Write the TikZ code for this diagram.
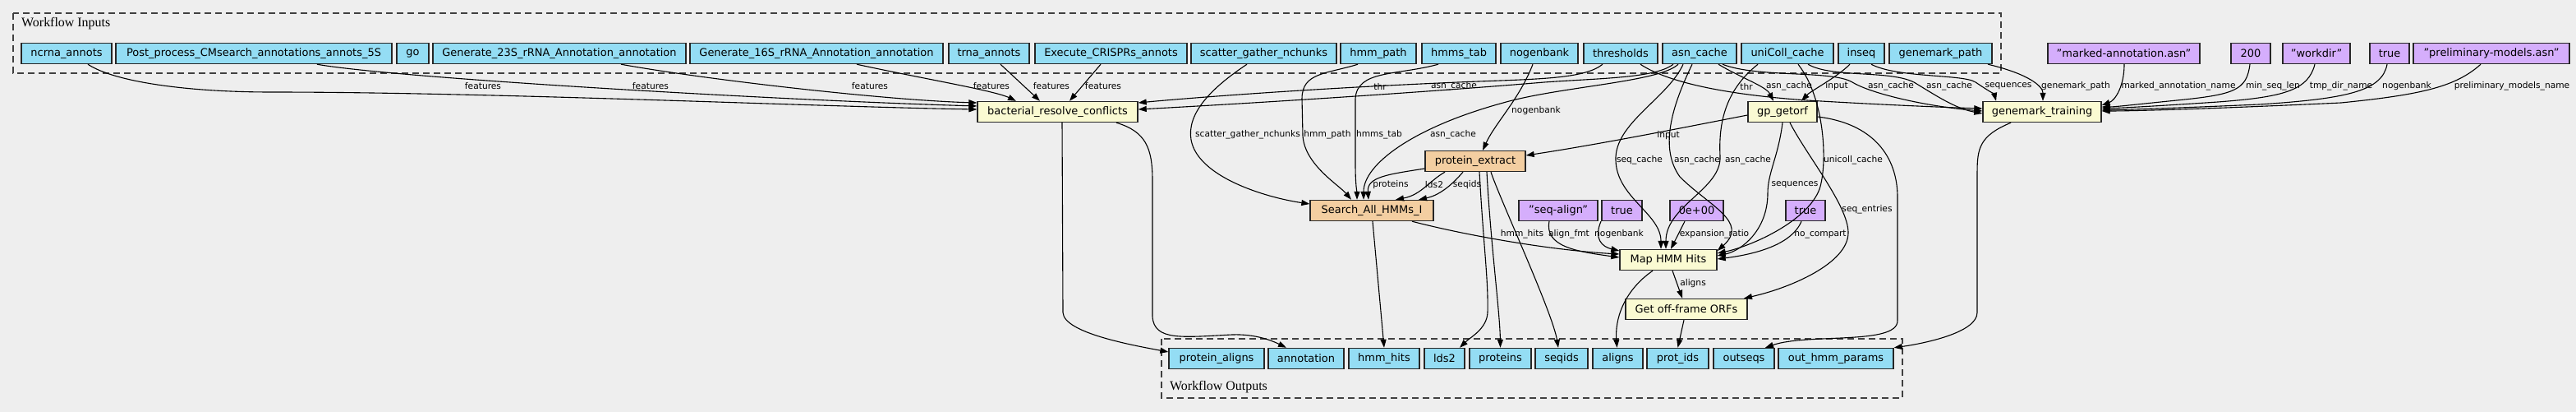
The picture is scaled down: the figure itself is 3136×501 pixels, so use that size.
\documentclass[tikz,border=0pt]{standalone}
\usepackage{fontspec}
\setmainfont{DejaVu Sans}
\newfontfamily\clusterfont{Liberation Serif}
\usepackage{tikz}
\usetikzlibrary{arrows.meta}
\definecolor{inblue}{HTML}{94DDF4}
\definecolor{stepyellow}{HTML}{FAFAD2}
\definecolor{suborange}{HTML}{F3CEA1}
\definecolor{constpurple}{HTML}{D5AEFC}
\definecolor{bggray}{HTML}{EEEEEE}

\begin{document}
\begin{tikzpicture}
  [
    x=1bp, y=-1bp,
    Blue/.style={rectangle, draw=black!85, fill=inblue, line width=1.4bp, minimum height=25bp, inner sep=0pt, font=\fontsize{13}{15}\selectfont},
    Yellow/.style={Blue, fill=stepyellow},
    Orange/.style={Blue, fill=suborange},
    Purple/.style={Blue, fill=constpurple},
    Label/.style={inner sep=0pt, font=\fontsize{10.7}{12}\selectfont},
    Edge/.style={draw, line width=1.1bp, -{Triangle[length=10bp,width=7bp]}},
    Cluster/.style={draw=black!75, line width=1.3bp, dash pattern=on 8bp off 5bp},
    ClusterLabel/.style={inner sep=0pt, anchor=west, font=\clusterfont\fontsize{16}{18}\selectfont}
  ]
  \fill[bggray] (0,0) rectangle (3136,501);
  \useasboundingbox (0,0) rectangle (3136,501);

  % Clusters
  \draw[Cluster] (16,16) rectangle (2436,89);
  \node[ClusterLabel] (inlabel) at (26,29) {Workflow Inputs};
  \draw[Cluster] (1414,412) rectangle (2316,484);
  \node[ClusterLabel] (outlabel) at (1424,471) {Workflow Outputs};

  % Nodes (x, y)
  % workflow inputs
  \node[Blue, minimum width=110bp] (ncrna) at(81, 65) {ncrna\_annots};
  \node[Blue, minimum width=336bp] (post) at(309, 65) {Post\_process\_CMsearch\_annotations\_annots\_5S};
  \node[Blue, minimum width=39bp] (go) at(502.5, 65) {go};
  \node[Blue, minimum width=308bp] (gen23) at(681, 65) {Generate\_23S\_rRNA\_Annotation\_annotation};
  \node[Blue, minimum width=308bp] (gen16) at(994, 65) {Generate\_16S\_rRNA\_Annotation\_annotation};
  \node[Blue, minimum width=98bp] (trna) at(1204, 65) {trna\_annots};
  \node[Blue, minimum width=185bp] (crispr) at(1352.5, 65) {Execute\_CRISPRs\_annots};
  \node[Blue, minimum width=177bp] (nchunks) at(1538.5, 65) {scatter\_gather\_nchunks};
  \node[Blue, minimum width=92bp] (hmmpath) at(1678, 65) {hmm\_path};
  \node[Blue, minimum width=90bp] (hmmstab) at(1776, 65) {hmms\_tab};
  \node[Blue, minimum width=94bp] (nogb) at(1874, 65) {nogenbank};
  \node[Blue, minimum width=90bp] (thresh) at(1973, 65) {thresholds};
  \node[Blue, minimum width=90bp] (asn) at(2069, 65) {asn\_cache};
  \node[Blue, minimum width=112bp] (unicoll) at(2176, 65) {uniColl\_cache};
  \node[Blue, minimum width=56bp] (inseq) at(2266, 65) {inseq};
  \node[Blue, minimum width=125bp] (gmpath) at(2362.5, 65) {genemark\_path};
  % default values
  \node[Purple, minimum width=185bp] (cmarked) at(2585.5, 65) {"marked-annotation.asn"};
  \node[Purple, minimum width=48bp] (cmin) at(2740, 65) {200};
  \node[Purple, minimum width=82bp] (cworkdir) at(2820, 65) {"workdir"};
  \node[Purple, minimum width=48bp] (ctrue) at(2909, 65) {true};
  \node[Purple, minimum width=190bp] (cprelim) at(3033, 65) {"preliminary-models.asn"};
  \node[Purple, minimum width=96bp] (calign) at(1897, 256) {"seq-align"};
  \node[Purple, minimum width=49bp] (ctrueb) at(1974.5, 256) {true};
  \node[Purple, minimum width=65bp] (cratio) at(2065.5, 256) {0e+00};
  \node[Purple, minimum width=48bp] (ctruec) at(2198, 256) {true};
  % steps
  \node[Yellow, minimum width=195bp] (brc) at(1287.5, 136) {bacterial\_resolve\_conflicts};
  \node[Yellow, minimum width=84bp] (getorf) at(2170, 136) {gp\_getorf};
  \node[Yellow, minimum width=144bp] (gmtrain) at(2486, 136) {genemark\_training};
  \node[Orange, minimum width=122bp] (pextract) at(1796, 196) {protein\_extract};
  \node[Orange, minimum width=150bp] (search) at(1670, 256) {Search\_All\_HMMs\_I};
  \node[Yellow, minimum width=118bp] (maphmm) at(2031, 316) {Map HMM Hits};
  \node[Yellow, minimum width=148bp] (offframe) at(2053, 376) {Get off-frame ORFs};
  % workflow outputs
  \node[Blue, minimum width=116bp] (oprotaligns) at(1481, 436) {protein\_aligns};
  \node[Blue, minimum width=92bp] (oannot) at(1590, 436) {annotation};
  \node[Blue, minimum width=86bp] (ohits) at(1685, 436) {hmm\_hits};
  \node[Blue, minimum width=49bp] (olds) at(1758.5, 436) {lds2};
  \node[Blue, minimum width=75bp] (oprot) at(1826.5, 436) {proteins};
  \node[Blue, minimum width=64bp] (oseqids) at(1901, 436) {seqids};
  \node[Blue, minimum width=61bp] (oaligns) at(1969.5, 436) {aligns};
  \node[Blue, minimum width=75bp] (oprotids) at(2042.5, 436) {prot\_ids};
  \node[Blue, minimum width=74bp] (ooutseqs) at(2123, 436) {outseqs};
  \node[Blue, minimum width=140bp] (ohmmparams) at(2235, 436) {out\_hmm\_params};

  % Lines
  % features -> bacterial_resolve_conflicts
  \path [Edge] ([xshift=26bp]ncrna.south) .. controls (140,100) and (230,112) .. (330,112) .. controls (600,112) and (1000,130) .. ([yshift=3bp]brc.west) node[Label] at (588,105) {features};
  \path [Edge] ([xshift=77bp]post.south) .. controls (480,95) and (950,122) .. ([yshift=7bp]brc.west) node[Label] at (792,105) {features};
  \path [Edge] ([xshift=75bp]gen23.south) .. controls (860,97) and (1080,122) .. ([yshift=11bp]brc.west) node[Label] at (1059,105) {features};
  \path [Edge] ([xshift=49bp]gen16.south) .. controls (1120,95) and (1210,110) .. ([xshift=-50.5bp]brc.north) node[Label] at (1207,105) {features};
  \path [Edge] ([xshift=14bp]trna.south) -- ([xshift=-21.5bp]brc.north) node[Label] at (1280,105) {features};
  \path [Edge] ([xshift=-12.5bp]crispr.south) -- ([xshift=14.5bp]brc.north) node[Label] at (1343,105) {features};
  % thr, asn_cache -> bacterial_resolve_conflicts
  \path [Edge] ([xshift=-22bp]thresh.south) .. controls (1930,95) and (1880,96) .. (1800,99) .. controls (1620,106) and (1460,118) .. ([yshift=11bp]brc.east) node[Label] at (1680,105) {thr};
  \path [Edge] ([xshift=-32bp]asn.south) .. controls (2015,95) and (1950,95) .. (1880,100) .. controls (1700,115) and (1480,128) .. ([yshift=3bp]brc.east) node[Label] at (1770,105) {asn\_cache};
  % inputs -> Search_All_HMMs_I
  \path [Edge] ([xshift=-20.5bp]nchunks.south) .. controls (1470,110) and (1445,140) .. (1450,170) .. controls (1458,215) and (1540,240) .. ([yshift=8bp]search.west) node[Label] at (1519,164) {scatter\_gather\_nchunks};
  \path [Edge] ([xshift=-25bp]hmmpath.south) .. controls (1615,90) and (1585,88) .. (1585,120) -- (1586,165) .. controls (1588,200) and (1630,225) .. ([xshift=-25bp]search.north) node[Label] at (1616,164) {hmm\_path};
  \path [Edge] ([xshift=-25bp]hmmstab.south) .. controls (1700,92) and (1652,85) .. (1650,120) -- (1650,200) .. controls (1650,225) and (1652,235) .. ([xshift=-18bp]search.north) node[Label] at (1679,164) {hmms\_tab};
  \path [Edge] ([xshift=-26bp]asn.south) .. controls (2020,100) and (1900,105) .. (1830,125) .. controls (1720,155) and (1660,200) .. ([xshift=-10bp]search.north) node[Label] at (1769,164) {asn\_cache};
  % -> protein_extract
  \path [Edge] ([xshift=-8bp]nogb.south) .. controls (1850,120) and (1820,150) .. ([xshift=9bp]pextract.north) node[Label] at (1870,135) {nogenbank};
  \path [Edge] ([yshift=-4bp]getorf.west) .. controls (2050,155) and (1950,175) .. ([yshift=7bp]pextract.east) node[Label] at (2031,165) {input};
  % protein_extract -> Search_All_HMMs_I
  \path [Edge] ([yshift=-9bp]pextract.west) .. controls (1690,212) and (1664,215) .. ([xshift=-4bp]search.north) node[Label] at (1693,225) {proteins};
  \path [Edge] ([xshift=-37bp]pextract.south) .. controls (1740,220) and (1730,237) .. ([xshift=29bp]search.north) node[Label] at (1746,225) {lds2};
  \path [Edge] ([xshift=-15bp]pextract.south) .. controls (1765,228) and (1750,238) .. ([xshift=57bp]search.north) node[Label] at (1786,225) {seqids};
  % -> Map HMM Hits
  \path [Edge] ([xshift=49bp]search.south) .. controls (1800,290) and (1900,305) .. ([yshift=7bp]maphmm.west) node[Label] at (1853,285) {hmm\_hits};
  \path [Edge] ([xshift=-11bp]calign.south) .. controls (1880,300) and (1920,306) .. ([yshift=3bp]maphmm.west) node[Label] at (1910,285) {align\_fmt};
  \path [Edge] ([xshift=-25.5bp]ctrueb.south) .. controls (1940,290) and (1950,300) .. ([yshift=11bp]maphmm.west) node[Label] at (1971,285) {nogenbank};
  \path [Edge] ([xshift=-20bp]asn.south) .. controls (2030,120) and (1965,150) .. (1967,195) .. controls (1968,240) and (2022,260) .. ([xshift=-9bp]maphmm.north) node[Label] at (1996,195) {seq\_cache};
  \path [Edge] ([xshift=-9bp]asn.south) .. controls (2035,130) and (2020,180) .. (2045,215) .. controls (2080,250) and (2130,270) .. ([yshift=11bp]maphmm.east) node[Label] at (2066,195) {asn\_cache};
  \path [Edge] ([xshift=-36bp]unicoll.south) .. controls (2100,110) and (2092,150) .. (2094,190) .. controls (2096,230) and (2028,250) .. ([xshift=-3bp]maphmm.north) node[Label] at (2128,195) {asn\_cache};
  \path [Edge] ([xshift=-14.5bp]cratio.south) -- ([xshift=3bp]maphmm.north) node[Label] at (2087,285) {expansion\_ratio};
  \path [Edge] ([xshift=13bp]unicoll.south) .. controls (2222,120) and (2225,200) .. (2215,230) .. controls (2200,270) and (2130,300) .. ([yshift=8bp]maphmm.east) node[Label] at (2256,195) {unicoll\_cache};
  \path [Edge] (getorf.south) .. controls (2165,190) and (2152,210) .. (2152,235) .. controls (2152,280) and (2120,305) .. ([yshift=5bp]maphmm.east) node[Label] at (2185,225) {sequences};
  \path [Edge] ([xshift=-5bp]ctruec.south) .. controls (2180,300) and (2130,310) .. ([yshift=1bp]maphmm.east) node[Label] at (2216,285) {no\_compart};
  % -> Get off-frame ORFs
  \path [Edge] ([xshift=9bp]getorf.south) .. controls (2200,190) and (2250,250) .. (2250,283) .. controls (2250,320) and (2180,350) .. ([xshift=70bp]offframe.north) node[Label] at (2273,255) {seq\_entries};
  \path [Edge] ([xshift=5bp]maphmm.south) -- ([xshift=-5bp]offframe.north) node[Label] at (2061,345) {aligns};
  % -> gp_getorf
  \path [Edge] ([xshift=23bp]asn.south) .. controls (2120,95) and (2150,105) .. ([xshift=-11bp]getorf.north) node[Label] at (2178,105) {asn\_cache};
  \path [Edge] ([xshift=-14bp]inseq.south) .. controls (2235,95) and (2205,110) .. ([xshift=23bp]getorf.north) node[Label] at (2236,105) {input};
  % -> genemark_training
  \path [Edge] ([xshift=24bp]thresh.south) .. controls (2030,100) and (2100,115) .. (2200,122) .. controls (2300,128) and (2380,131) .. ([yshift=4bp]gmtrain.west) node[Label] at (2126,105) {thr};
  \path [Edge] ([xshift=28bp]asn.south) .. controls (2140,95) and (2230,85) .. (2255,100) .. controls (2280,115) and (2350,130) .. ([yshift=1bp]gmtrain.west) node[Label] at (2302,105) {asn\_cache};
  \path [Edge] ([xshift=25bp]unicoll.south) .. controls (2230,95) and (2300,85) .. (2330,100) .. controls (2355,115) and (2380,132) .. ([yshift=-2bp]gmtrain.west) node[Label] at (2373,105) {asn\_cache};
  \path [Edge] ([xshift=12bp]inseq.south) .. controls (2310,95) and (2390,90) .. (2405,100) .. controls (2420,110) and (2428,115) .. ([xshift=-56bp]gmtrain.north) node[Label] at (2445,105) {sequences};
  \path [Edge] ([xshift=57.5bp]gmpath.south) .. controls (2470,90) and (2487,105) .. ([xshift=1bp]gmtrain.north) node[Label] at (2527,105) {genemark\_path};
  \path [Edge] ([xshift=0.5bp]cmarked.south) .. controls (2586,105) and (2575,122) .. ([yshift=8bp]gmtrain.east) node[Label] at (2652,105) {marked\_annotation\_name};
  \path [Edge] ([xshift=-1bp]cmin.south) .. controls (2735,110) and (2720,115) .. (2650,122) .. controls (2600,127) and (2575,130) .. ([yshift=6bp]gmtrain.east) node[Label] at (2767,105) {min\_seq\_len};
  \path [Edge] ([xshift=-2bp]cworkdir.south) .. controls (2810,110) and (2780,118) .. (2700,124) .. controls (2640,128) and (2590,131) .. ([yshift=4bp]gmtrain.east) node[Label] at (2850,105) {tmp\_dir\_name};
  \path [Edge] ([xshift=-3bp]ctrue.south) .. controls (2900,110) and (2860,120) .. (2750,127) .. controls (2660,131) and (2600,133) .. ([yshift=2bp]gmtrain.east) node[Label] at (2930,105) {nogenbank};
  \path [Edge] ([xshift=-13bp]cprelim.south) .. controls (2990,105) and (2950,115) .. (2850,125) .. controls (2700,132) and (2600,135) .. ([yshift=1bp]gmtrain.east) node[Label] at (3058,105) {preliminary\_models\_name};
  % steps -> workflow outputs
  \path [Edge] ([xshift=5.5bp]brc.south) -- (1294,380) .. controls (1295,405) and (1380,420) .. ([yshift=8bp]oprotaligns.west);
  \path [Edge] ([xshift=71.5bp]brc.south) .. controls (1395,160) and (1403,180) .. (1403,220) -- (1403,385) .. controls (1405,415) and (1440,410) .. (1500,407) .. controls (1530,406) and (1550,415) .. ([xshift=-24bp]oannot.north);
  \path [Edge] ([xshift=1bp]search.south) -- (ohits.north);
  \path [Edge] ([xshift=5bp]pextract.south) .. controls (1806,300) and (1812,340) .. (1811,380) .. controls (1810,400) and (1790,410) .. ([xshift=18.5bp]olds.north);
  \path [Edge] ([xshift=14bp]pextract.south) .. controls (1815,300) and (1826,380) .. (oprot.north);
  \path [Edge] ([xshift=19bp]pextract.south) .. controls (1825,240) and (1890,380) .. ([xshift=-4bp]oseqids.north);
  \path [Edge] ([xshift=-19bp]maphmm.south) .. controls (1975,355) and (1966,390) .. ([xshift=-1bp]oaligns.north);
  \path [Edge] ([xshift=-3bp]offframe.south) -- (oprotids.north);
  \path [Edge] ([yshift=-6bp]getorf.east) .. controls (2280,150) and (2310,190) .. (2310,240) -- (2310,390) .. controls (2310,420) and (2200,405) .. ([xshift=26bp]ooutseqs.north);
  \path [Edge] ([xshift=-38bp]gmtrain.south) .. controls (2410,165) and (2407,180) .. (2407,210) -- (2407,380) .. controls (2407,405) and (2340,418) .. (ohmmparams.north east);

\end{tikzpicture}
\end{document}
